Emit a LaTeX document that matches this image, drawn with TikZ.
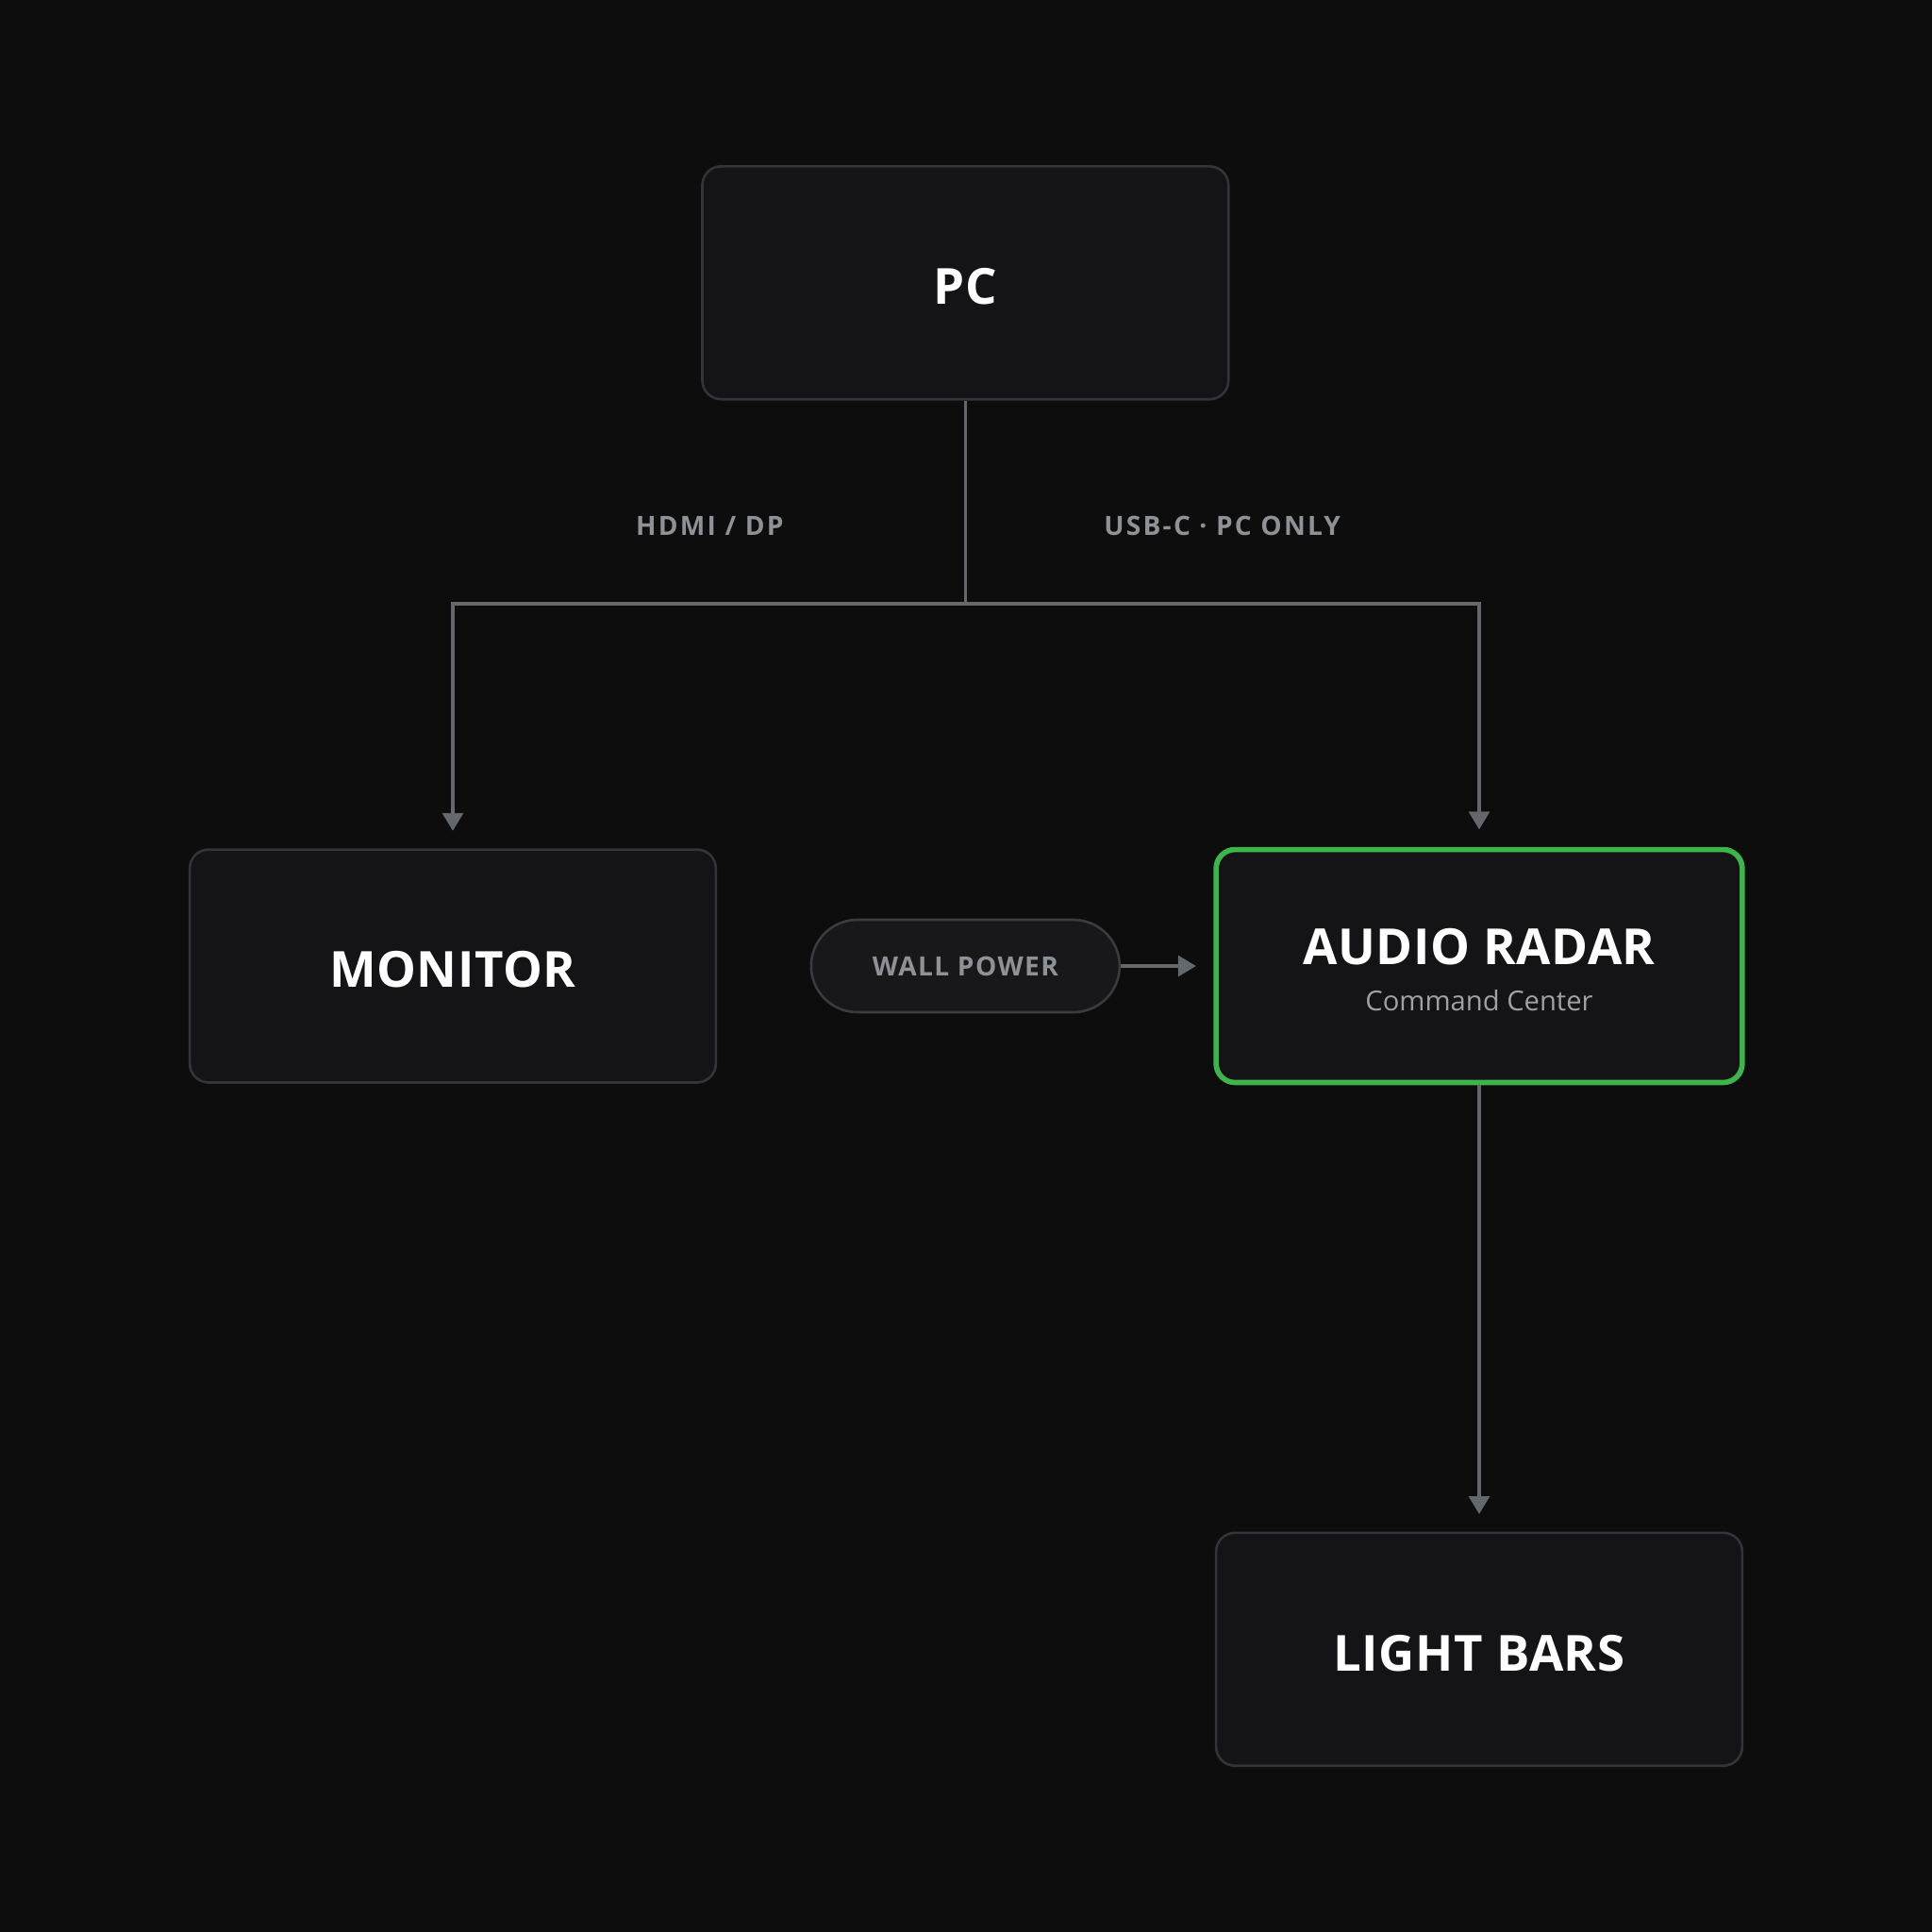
\documentclass[tikz,border=0pt]{standalone}
\usepackage{fontspec}
\setmainfont{Open Sans}
\newfontfamily\titlefont[LetterSpace=1]{Open Sans}
\newfontfamily\labelfont[LetterSpace=8]{Open Sans}
\newfontfamily\pillfont[LetterSpace=5]{Open Sans}
\usetikzlibrary{arrows.meta}
\definecolor{bg}{HTML}{0D0D0E}
\definecolor{boxfill}{HTML}{141417}
\definecolor{boxline}{HTML}{333338}
\definecolor{wire}{HTML}{64686D}
\definecolor{lblgrey}{HTML}{8E9196}
\definecolor{subgrey}{HTML}{A0A0A5}
\definecolor{accent}{HTML}{3DB54A}
\definecolor{pillfill}{HTML}{18181B}
\definecolor{pillline}{HTML}{3A3A3F}
\begin{document}
\begin{tikzpicture}[x=0.013061cm,y=-0.013061cm,
  devbox/.style={draw=boxline,fill=boxfill,line width=0.75pt,rounded corners=0.2cm,
    minimum width=5.577cm,minimum height=2.469cm,inner sep=0pt,align=center,
    text height=13pt,text depth=0pt,
    text=white,font=\titlefont\bfseries\fontsize{15}{18}\selectfont},
  hubbox/.style={draw=accent,fill=boxfill,line width=1.6pt,rounded corners=0.2cm,
    minimum width=5.577cm,minimum height=2.469cm,inner sep=0pt},
  hubtext/.style={inner sep=0pt,align=center,text=white,font=\titlefont\bfseries\fontsize{15}{18}\selectfont},
  pill/.style={draw=pillline,fill=pillfill,line width=0.75pt,rounded corners=0.49cm,
    minimum width=3.27cm,minimum height=0.98cm,inner sep=0pt,
    text=lblgrey,font=\pillfont\bfseries\fontsize{8}{10}\selectfont},
  wirelabel/.style={text=lblgrey,font=\labelfont\bfseries\fontsize{8}{10}\selectfont,inner sep=0pt},
  wireline/.style={draw=wire,line width=0.9pt},
  wirearrow/.style={wireline,-{Triangle[width=0.22cm,length=0.19cm]},shorten >=0.185cm}
]
\fill[bg] (0,0) rectangle (1568,1568);
\useasboundingbox (0,0) rectangle (1568,1568);

\node[devbox] (pc) at (783.5,229.5) {PC};
\node[devbox] (monitor) at (367.5,784) {MONITOR};
\node[hubbox] (radar) at (1200.5,784) {};
\node[hubtext] (radartext) at (1200.5,787) {AUDIO RADAR\\[-4pt]{\fontspec{Open Sans}\mdseries\color{subgrey}\fontsize{8.3}{11}\selectfont Command Center}};
\node[devbox] (lights) at (1200.5,1338.5) {LIGHT BARS};
\node[pill] (wall) at (783.5,784) {WALL POWER};

\node[wirelabel] (hdmi) at (576,427) {HDMI / DP};
\node[wirelabel] (usbc) at (992,427) {USB-C · PC ONLY};

\coordinate (bus) at (783.5,490);
\draw[wireline] (pc.south) -- (bus);
\draw[wirearrow] (bus) -| (monitor.north);
\draw[wirearrow] (bus) -| (radar.north);
\draw[wirearrow] (wall.east) -- (radar.west);
\draw[wirearrow] (radar.south) -- (lights.north);
\end{tikzpicture}
\end{document}
